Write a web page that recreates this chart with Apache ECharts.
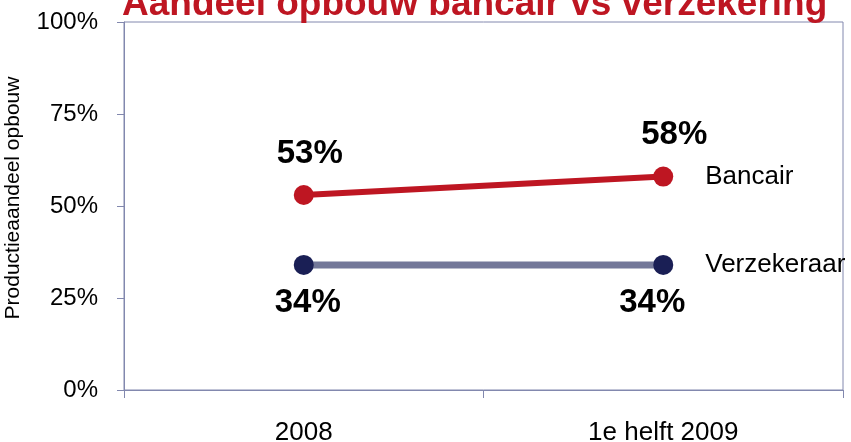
<!DOCTYPE html>
<html>
<head>
<meta charset="utf-8">
<script src="https://cdn.jsdelivr.net/npm/echarts@6/dist/echarts.min.js"></script>
<style>
  html, body { margin: 0; padding: 0; background: #fff; }
  #chart { width: 851px; height: 442px; }
</style>
</head>
<body>
<div id="chart"></div>
<script>
// data
const categories = ['2008', '1e helft 2009'];
const bancair = [0.53, 0.58];
const verzekeraar = [0.34, 0.34];
const yTicks = [0, 0.25, 0.5, 0.75, 1];

// small horizontal nudges of the value labels, as in the original slide
const bancairLabelShift = [6, 11];
const verzekeraarLabelShift = [4, -11];

const axisColor = '#8288AE';
const font = '"Liberation Sans", Arial, sans-serif';
const pct = v => Math.round(v * 100) + '%';

const withShift = (values, shifts) =>
  values.map((v, i) => ({ value: v, label: { offset: [shifts[i], 0] } }));

const chart = echarts.init(document.getElementById('chart'));
chart.setOption({
  animation: false,
  textStyle: { fontFamily: font },
  title: {
    text: 'Aandeel opbouw bancair vs verzekering',
    left: 117,
    top: -19,
    textStyle: { color: '#BE1622', fontSize: 37, fontWeight: 'bold', fontFamily: font }
  },
  grid: {
    left: 124, right: 8, top: 22, bottom: 52,
    outerBoundsMode: 'none',
    containLabel: false,
    show: true, borderColor: axisColor, borderWidth: 1
  },
  xAxis: {
    type: 'category',
    data: categories,
    boundaryGap: true,
    axisLine: { lineStyle: { color: axisColor, width: 1 } },
    axisTick: { show: true, length: 8, interval: 0, lineStyle: { color: axisColor } },
    axisLabel: { margin: 30, fontSize: 26, color: '#000', fontFamily: font }
  },
  yAxis: {
    type: 'value',
    min: yTicks[0],
    max: yTicks[yTicks.length - 1],
    interval: 0.25,
    name: 'Productieaandeel opbouw',
    nameLocation: 'middle',
    nameRotate: 90,
    nameGap: 100,
    nameTextStyle: { fontSize: 21, color: '#000', fontFamily: font, padding: [0, 0, 0, 16] },
    axisLine: { show: true, lineStyle: { color: axisColor, width: 1 } },
    axisTick: { show: true, length: 7, lineStyle: { color: axisColor } },
    splitLine: { show: false },
    axisLabel: { margin: 26, fontSize: 24, color: '#000', formatter: pct, fontFamily: font }
  },
  series: [
    {
      name: 'Bancair',
      type: 'line',
      data: withShift(bancair, bancairLabelShift),
      symbol: 'circle',
      symbolSize: 20,
      lineStyle: { color: '#BE1622', width: 6 },
      itemStyle: { color: '#BE1622' },
      label: {
        show: true, position: 'top', distance: 15,
        formatter: p => pct(p.value),
        fontSize: 33, fontWeight: 'bold', color: '#000', fontFamily: font
      },
      endLabel: {
        show: true, formatter: '{a}', distance: 42,
        fontSize: 26, color: '#000', fontFamily: font
      }
    },
    {
      name: 'Verzekeraar',
      type: 'line',
      data: withShift(verzekeraar, verzekeraarLabelShift),
      symbol: 'circle',
      symbolSize: 20,
      lineStyle: { color: '#737899', width: 7 },
      itemStyle: { color: '#1A1F55' },
      label: {
        show: true, position: 'bottom', distance: 12,
        formatter: p => pct(p.value),
        fontSize: 33, fontWeight: 'bold', color: '#000', fontFamily: font
      },
      endLabel: {
        show: true, formatter: '{a}', distance: 42,
        fontSize: 26, color: '#000', fontFamily: font
      }
    }
  ]
});
</script>
</body>
</html>
